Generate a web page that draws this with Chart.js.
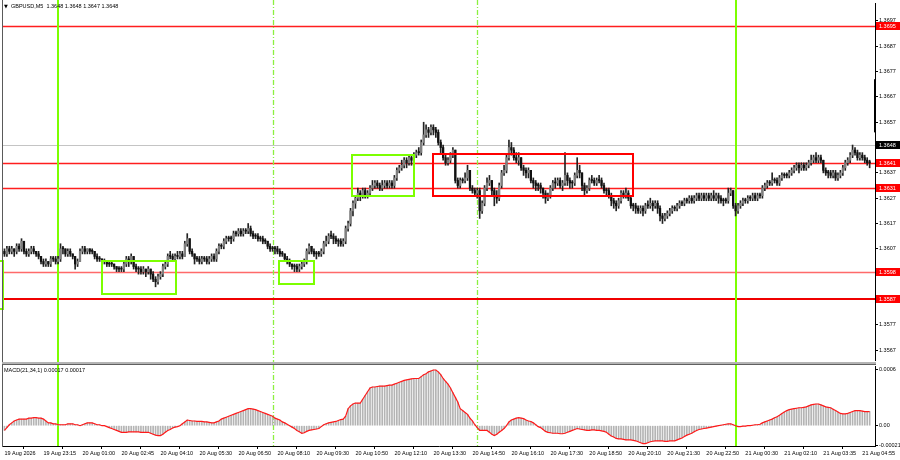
<!DOCTYPE html>
<html><head><meta charset="utf-8">
<script src="https://cdn.jsdelivr.net/npm/chart.js@4.4.1/dist/chart.umd.min.js"></script>
<style>
html,body{margin:0;padding:0;background:#fff;width:900px;height:460px;overflow:hidden}
#wrap{position:relative;width:900px;height:460px}
#main{position:absolute;left:0;top:0}
#sep{position:absolute;left:2px;top:362px;width:874px;height:2px;background:#b4b4b4;border-bottom:1px solid #606060}
#macd{position:absolute;left:0;top:365px}
</style></head><body>
<div id="wrap"><canvas id="main" width="900" height="362"></canvas><div id="sep"></div><canvas id="macd" width="900" height="95"></canvas></div>
<script>
// ---------- data (GBPUSD M5) ----------
const chartTitle = 'GBPUSD,M5  1.3648 1.3648 1.3647 1.3648';
const macdTitle = 'MACD(21,34,1) 0.00017 0.00017';
const firstOpen = 1.3606;
const closes = [
1.3605,1.3607,1.3606,1.3607,1.3606,1.3608,1.3607,1.3610,1.3606,1.3605,1.3606,1.3607,1.3606,1.3605,1.3604,1.3602,
1.3601,1.3602,1.3601,1.3603,1.3603,1.3602,1.3603,1.3607,1.3607,1.3605,1.3606,1.3605,1.3604,1.3601,1.3602,1.3606,
1.3607,1.3606,1.3607,1.3606,1.3606,1.3604,1.3603,1.3603,1.3602,1.3602,1.3601,1.3601,1.3601,1.3600,1.3599,1.3599,
1.3599,1.3601,1.3603,1.3602,1.3604,1.3600,1.3599,1.3599,1.3598,1.3599,1.3598,1.3599,1.3597,1.3595,1.3594,1.3596,
1.3597,1.3600,1.3601,1.3604,1.3604,1.3603,1.3604,1.3604,1.3605,1.3604,1.3609,1.3611,1.3606,1.3605,1.3603,1.3603,
1.3602,1.3603,1.3603,1.3602,1.3603,1.3604,1.3603,1.3606,1.3608,1.3608,1.3610,1.3611,1.3611,1.3611,1.3613,1.3613,
1.3614,1.3613,1.3614,1.3614,1.3615,1.3613,1.3612,1.3612,1.3611,1.3611,1.3610,1.3610,1.3608,1.3607,1.3607,1.3607,
1.3606,1.3605,1.3605,1.3603,1.3602,1.3601,1.3600,1.3600,1.3599,1.3600,1.3601,1.3602,1.3606,1.3608,1.3606,1.3605,
1.3605,1.3605,1.3606,1.3609,1.3610,1.3612,1.3612,1.3611,1.3610,1.3610,1.3609,1.3610,1.3615,1.3617,1.3622,1.3625,
1.3627,1.3629,1.3628,1.3630,1.3628,1.3629,1.3631,1.3632,1.3633,1.3632,1.3631,1.3632,1.3633,1.3632,1.3633,1.3632,
1.3635,1.3638,1.3639,1.3640,1.3642,1.3641,1.3643,1.3642,1.3644,1.3645,1.3645,1.3649,1.3652,1.3654,1.3653,1.3655,
1.3654,1.3653,1.3649,1.3647,1.3643,1.3641,1.3642,1.3644,1.3646,1.3634,1.3632,1.3634,1.3634,1.3635,1.3638,1.3631,
1.3630,1.3629,1.3630,1.3622,1.3625,1.3631,1.3633,1.3634,1.3630,1.3628,1.3627,1.3632,1.3637,1.3638,1.3643,1.3647,
1.3646,1.3643,1.3642,1.3643,1.3639,1.3638,1.3637,1.3638,1.3634,1.3633,1.3632,1.3632,1.3631,1.3629,1.3627,1.3628,
1.3631,1.3633,1.3633,1.3634,1.3632,1.3633,1.3636,1.3634,1.3633,1.3633,1.3636,1.3638,1.3637,1.3632,1.3630,1.3631,
1.3634,1.3634,1.3633,1.3634,1.3634,1.3632,1.3630,1.3630,1.3628,1.3626,1.3625,1.3624,1.3626,1.3629,1.3628,1.3629,
1.3627,1.3624,1.3624,1.3623,1.3622,1.3623,1.3622,1.3624,1.3624,1.3625,1.3624,1.3625,1.3623,1.3620,1.3619,1.3620,
1.3621,1.3622,1.3623,1.3623,1.3624,1.3625,1.3625,1.3626,1.3626,1.3627,1.3626,1.3627,1.3628,1.3627,1.3628,1.3627,
1.3628,1.3627,1.3628,1.3627,1.3628,1.3627,1.3626,1.3626,1.3626,1.3629,1.3630,1.3624,1.3622,1.3624,1.3625,1.3626,
1.3626,1.3627,1.3627,1.3628,1.3627,1.3628,1.3628,1.3631,1.3632,1.3633,1.3633,1.3634,1.3634,1.3633,1.3635,1.3636,
1.3636,1.3636,1.3637,1.3638,1.3639,1.3640,1.3639,1.3640,1.3639,1.3640,1.3641,1.3642,1.3643,1.3642,1.3643,1.3642,
1.3638,1.3637,1.3637,1.3636,1.3637,1.3635,1.3636,1.3637,1.3639,1.3641,1.3642,1.3644,1.3646,1.3645,1.3643,1.3644,
1.3643,1.3642,1.3641,1.3641];
const highs = [
1.3607,1.3608,1.3608,1.3608,1.3607,1.3609,1.3609,1.3611,1.3610,1.3607,1.3607,1.3608,1.3608,1.3606,1.3606,1.3604,
1.3603,1.3603,1.3602,1.3604,1.3604,1.3604,1.3604,1.3609,1.3608,1.3607,1.3607,1.3607,1.3605,1.3604,1.3603,1.3607,
1.3608,1.3608,1.3607,1.3607,1.3607,1.3606,1.3605,1.3604,1.3603,1.3603,1.3602,1.3602,1.3602,1.3601,1.3600,1.3600,
1.3600,1.3602,1.3604,1.3604,1.3605,1.3604,1.3601,1.3600,1.3600,1.3600,1.3599,1.3600,1.3599,1.3598,1.3596,1.3597,
1.3598,1.3601,1.3602,1.3605,1.3606,1.3605,1.3605,1.3606,1.3606,1.3606,1.3610,1.3613,1.3611,1.3607,1.3605,1.3604,
1.3604,1.3604,1.3604,1.3604,1.3604,1.3605,1.3605,1.3607,1.3609,1.3609,1.3611,1.3612,1.3612,1.3612,1.3614,1.3614,
1.3615,1.3615,1.3615,1.3615,1.3617,1.3616,1.3614,1.3613,1.3613,1.3612,1.3612,1.3611,1.3610,1.3609,1.3608,1.3608,
1.3608,1.3607,1.3606,1.3605,1.3604,1.3603,1.3601,1.3601,1.3601,1.3601,1.3602,1.3603,1.3607,1.3609,1.3608,1.3607,
1.3606,1.3606,1.3607,1.3610,1.3612,1.3613,1.3614,1.3613,1.3612,1.3611,1.3611,1.3611,1.3616,1.3618,1.3623,1.3626,
1.3628,1.3631,1.3630,1.3631,1.3631,1.3630,1.3632,1.3634,1.3634,1.3634,1.3633,1.3634,1.3634,1.3634,1.3634,1.3634,
1.3636,1.3639,1.3640,1.3642,1.3643,1.3643,1.3644,1.3644,1.3645,1.3646,1.3647,1.3650,1.3657,1.3656,1.3655,1.3656,
1.3656,1.3655,1.3654,1.3650,1.3648,1.3644,1.3643,1.3645,1.3647,1.3646,1.3635,1.3635,1.3635,1.3637,1.3640,1.3638,
1.3632,1.3631,1.3631,1.3631,1.3626,1.3632,1.3635,1.3636,1.3634,1.3631,1.3630,1.3633,1.3638,1.3640,1.3644,1.3650,
1.3649,1.3647,1.3645,1.3645,1.3643,1.3640,1.3639,1.3639,1.3638,1.3635,1.3634,1.3633,1.3633,1.3631,1.3630,1.3629,
1.3632,1.3634,1.3635,1.3635,1.3635,1.3634,1.3645,1.3637,1.3635,1.3634,1.3637,1.3643,1.3640,1.3637,1.3633,1.3632,
1.3635,1.3636,1.3635,1.3635,1.3636,1.3635,1.3633,1.3631,1.3631,1.3629,1.3627,1.3626,1.3627,1.3630,1.3630,1.3631,
1.3630,1.3628,1.3625,1.3625,1.3624,1.3624,1.3624,1.3625,1.3626,1.3627,1.3626,1.3626,1.3626,1.3624,1.3621,1.3621,
1.3622,1.3623,1.3624,1.3624,1.3625,1.3626,1.3626,1.3627,1.3627,1.3628,1.3628,1.3628,1.3629,1.3629,1.3629,1.3629,
1.3629,1.3629,1.3629,1.3630,1.3629,1.3629,1.3628,1.3627,1.3627,1.3631,1.3631,1.3630,1.3625,1.3625,1.3626,1.3627,
1.3627,1.3628,1.3628,1.3629,1.3629,1.3629,1.3629,1.3632,1.3633,1.3634,1.3634,1.3637,1.3635,1.3635,1.3636,1.3637,
1.3637,1.3637,1.3638,1.3639,1.3640,1.3641,1.3641,1.3641,1.3641,1.3641,1.3642,1.3644,1.3644,1.3645,1.3644,1.3644,
1.3642,1.3639,1.3638,1.3638,1.3638,1.3638,1.3637,1.3638,1.3640,1.3642,1.3643,1.3645,1.3648,1.3647,1.3646,1.3645,
1.3645,1.3644,1.3643,1.3642];
const lows = [
1.3604,1.3604,1.3605,1.3605,1.3604,1.3605,1.3606,1.3606,1.3605,1.3604,1.3604,1.3605,1.3605,1.3604,1.3603,1.3601,
1.3600,1.3600,1.3600,1.3600,1.3602,1.3601,1.3601,1.3602,1.3605,1.3604,1.3604,1.3604,1.3603,1.3599,1.3600,1.3602,
1.3605,1.3605,1.3605,1.3605,1.3605,1.3603,1.3602,1.3602,1.3601,1.3601,1.3600,1.3600,1.3600,1.3599,1.3598,1.3598,
1.3598,1.3598,1.3600,1.3600,1.3601,1.3599,1.3598,1.3597,1.3597,1.3597,1.3596,1.3597,1.3595,1.3594,1.3592,1.3593,
1.3595,1.3596,1.3599,1.3600,1.3603,1.3602,1.3602,1.3603,1.3603,1.3603,1.3604,1.3608,1.3605,1.3604,1.3601,1.3602,
1.3601,1.3601,1.3602,1.3601,1.3601,1.3602,1.3602,1.3602,1.3605,1.3607,1.3607,1.3609,1.3610,1.3609,1.3610,1.3612,
1.3612,1.3612,1.3612,1.3613,1.3613,1.3612,1.3611,1.3611,1.3610,1.3610,1.3609,1.3609,1.3607,1.3606,1.3606,1.3605,
1.3605,1.3604,1.3604,1.3602,1.3601,1.3600,1.3599,1.3598,1.3598,1.3598,1.3599,1.3600,1.3601,1.3605,1.3605,1.3604,
1.3603,1.3604,1.3604,1.3605,1.3608,1.3609,1.3611,1.3609,1.3609,1.3608,1.3608,1.3608,1.3609,1.3614,1.3616,1.3620,
1.3623,1.3626,1.3626,1.3627,1.3627,1.3627,1.3628,1.3630,1.3631,1.3631,1.3630,1.3630,1.3631,1.3631,1.3631,1.3631,
1.3631,1.3634,1.3637,1.3638,1.3639,1.3639,1.3640,1.3640,1.3641,1.3643,1.3644,1.3644,1.3648,1.3651,1.3651,1.3652,
1.3652,1.3651,1.3648,1.3645,1.3642,1.3640,1.3640,1.3641,1.3643,1.3633,1.3631,1.3631,1.3633,1.3633,1.3634,1.3630,
1.3629,1.3628,1.3627,1.3619,1.3621,1.3624,1.3630,1.3632,1.3628,1.3624,1.3625,1.3626,1.3631,1.3636,1.3637,1.3642,
1.3644,1.3642,1.3641,1.3640,1.3638,1.3636,1.3635,1.3635,1.3633,1.3631,1.3630,1.3630,1.3629,1.3627,1.3625,1.3626,
1.3627,1.3630,1.3631,1.3632,1.3631,1.3630,1.3632,1.3632,1.3631,1.3631,1.3632,1.3635,1.3635,1.3630,1.3628,1.3629,
1.3630,1.3633,1.3632,1.3632,1.3633,1.3631,1.3629,1.3628,1.3627,1.3624,1.3623,1.3622,1.3623,1.3625,1.3627,1.3627,
1.3626,1.3623,1.3622,1.3621,1.3621,1.3621,1.3620,1.3621,1.3623,1.3623,1.3622,1.3623,1.3621,1.3618,1.3617,1.3618,
1.3619,1.3620,1.3621,1.3622,1.3622,1.3623,1.3624,1.3624,1.3625,1.3625,1.3625,1.3625,1.3626,1.3626,1.3626,1.3626,
1.3626,1.3626,1.3626,1.3626,1.3626,1.3625,1.3625,1.3624,1.3625,1.3625,1.3628,1.3623,1.3620,1.3621,1.3623,1.3624,
1.3625,1.3625,1.3626,1.3626,1.3626,1.3626,1.3627,1.3627,1.3630,1.3631,1.3632,1.3632,1.3633,1.3632,1.3632,1.3634,
1.3635,1.3635,1.3635,1.3636,1.3637,1.3638,1.3637,1.3638,1.3638,1.3638,1.3639,1.3640,1.3641,1.3641,1.3641,1.3641,
1.3637,1.3636,1.3635,1.3635,1.3635,1.3634,1.3634,1.3635,1.3636,1.3638,1.3640,1.3641,1.3643,1.3644,1.3642,1.3642,
1.3642,1.3641,1.3640,1.3639];
// MACD(21,34,1) main = signal, read per bar from the lower panel
const macd = [
-5e-5,-2e-5,1e-5,3e-5,5e-5,6e-5,7e-5,7e-5,7e-5,7e-5,8e-5,8e-5,8.5e-5,8.5e-5,8e-5,8e-5,
7e-5,5e-5,3e-5,3e-5,2e-5,2e-5,1e-5,1e-5,1e-5,1e-5,2e-5,2e-5,2e-5,1e-5,1e-5,0,
1e-5,2e-5,3e-5,3e-5,3e-5,2e-5,1e-5,1e-5,0,0,-1e-5,-2e-5,-3e-5,-4e-5,-5e-5,-6e-5,
-7e-5,-7e-5,-7e-5,-6.5e-5,-6.5e-5,-6.5e-5,-6.5e-5,-6.5e-5,-7e-5,-7e-5,-7e-5,-7e-5,-8e-5,-9e-5,-10e-5,-10.5e-5,
-10.5e-5,-9e-5,-7e-5,-5e-5,-4e-5,-2.5e-5,-1.5e-5,-1e-5,0,2e-5,4e-5,6e-5,5.5e-5,5e-5,5e-5,4.5e-5,
4.5e-5,4.5e-5,4e-5,4e-5,3.5e-5,3e-5,3e-5,4e-5,5e-5,7e-5,8e-5,9e-5,10e-5,11e-5,12e-5,13e-5,
14e-5,15e-5,16e-5,17e-5,18e-5,18e-5,17.5e-5,17e-5,16e-5,15e-5,14e-5,13e-5,12e-5,11e-5,10e-5,8e-5,
7e-5,6e-5,4e-5,3e-5,1.5e-5,0,-1.5e-5,-3e-5,-5e-5,-6.5e-5,-8e-5,-7.5e-5,-6e-5,-5e-5,-4.5e-5,-4e-5,
-3.5e-5,-3e-5,-1e-5,1e-5,2e-5,3e-5,3.5e-5,4e-5,4.5e-5,5.5e-5,6.5e-5,7e-5,10e-5,18e-5,21e-5,23e-5,
24e-5,24e-5,24e-5,28e-5,32e-5,36e-5,40e-5,41e-5,41e-5,41.5e-5,42e-5,42e-5,42e-5,42.5e-5,43e-5,43e-5,
44e-5,45e-5,46e-5,47e-5,48e-5,48.5e-5,49e-5,49.5e-5,50e-5,50e-5,50e-5,52e-5,54e-5,55e-5,57e-5,58e-5,
59e-5,59e-5,57e-5,54e-5,50e-5,47e-5,44e-5,40e-5,35e-5,30e-5,25e-5,18e-5,16e-5,14e-5,12e-5,8e-5,
5e-5,1e-5,-2e-5,-5e-5,-5e-5,-5e-5,-5e-5,-7e-5,-9e-5,-10.5e-5,-9e-5,-7e-5,-5e-5,-3e-5,0,4e-5,
6e-5,7e-5,8e-5,8.5e-5,8e-5,7.5e-5,6e-5,5e-5,4.5e-5,3e-5,1e-5,-1e-5,-2e-5,-4e-5,-6e-5,-7e-5,
-7.5e-5,-8e-5,-8e-5,-8e-5,-8.5e-5,-8.5e-5,-8e-5,-7e-5,-6e-5,-5e-5,-4e-5,-3e-5,-3.5e-5,-4e-5,-4.5e-5,-5e-5,
-5e-5,-4.5e-5,-4.5e-5,-5e-5,-5e-5,-5.5e-5,-6e-5,-7e-5,-9e-5,-11e-5,-12e-5,-13.5e-5,-14e-5,-14e-5,-14.5e-5,-15e-5,
-15e-5,-15e-5,-15.5e-5,-16e-5,-17e-5,-18e-5,-19e-5,-19e-5,-18e-5,-17e-5,-16.5e-5,-16e-5,-16e-5,-16e-5,-16e-5,-16.5e-5,
-16.5e-5,-16e-5,-16e-5,-16e-5,-15e-5,-14e-5,-13e-5,-11.5e-5,-10e-5,-9e-5,-8e-5,-6.5e-5,-5e-5,-4e-5,-3.5e-5,-3e-5,
-2.5e-5,-2e-5,-1.5e-5,-1e-5,-0.5e-5,0,0.5e-5,1e-5,1.5e-5,2e-5,2e-5,1e-5,0,-1e-5,-1e-5,-0.5e-5,
-0.5e-5,0,0,0.5e-5,1e-5,1e-5,1.5e-5,3e-5,4e-5,5e-5,6e-5,7e-5,8.5e-5,9.5e-5,11e-5,13e-5,
14.5e-5,16e-5,17e-5,17.5e-5,18e-5,18.5e-5,19e-5,19e-5,19.5e-5,20e-5,21e-5,22e-5,22.5e-5,23e-5,23e-5,22e-5,
21e-5,20e-5,19.5e-5,19e-5,17.5e-5,16e-5,14.5e-5,13e-5,12.5e-5,12.5e-5,13e-5,14e-5,15e-5,16e-5,16e-5,16e-5,
15.5e-5,15e-5,15e-5,15e-5];
const timeTickIndex = [0,16,32,48,64,80,96,112,128,144,160,176,192,208,224,240,256,272,288,304,320,336,352];
const timeLabels = ['19 Aug 2026','19 Aug 23:15','20 Aug 01:00','20 Aug 02:45','20 Aug 04:10','20 Aug 05:30',
'20 Aug 06:50','20 Aug 08:10','20 Aug 09:30','20 Aug 10:50','20 Aug 12:10','20 Aug 13:30','20 Aug 14:50',
'20 Aug 16:10','20 Aug 17:30','20 Aug 18:50','20 Aug 20:10','20 Aug 21:30','20 Aug 22:50','21 Aug 00:30',
'21 Aug 02:10','21 Aug 03:35','21 Aug 04:55'];
const priceTicks = [1.3567,1.3577,1.3607,1.3617,1.3627,1.3637,1.3657,1.3667,1.3677,1.3687,1.3697];
const macdTicks = [-0.00021, 0, 0.0006];
const macdTickLabels = ['-0.00021','0.00','0.0006'];
// horizontal levels and the current price line
const levels = [1.3695, 1.3641, 1.3631, 1.3598, 1.3587];
const bidPrice = 1.3648;
// drawn objects (bar index / price coordinates)
const vLineIdx = [22, 110, 194, 300];
const boxIdx0 = [-20, 40.0, 112.7, 142.6, 175.8];
const boxIdx1 = [-0.7, 70.4, 127.0, 168.1, 257.9];
const boxTop = [1.3602, 1.3602, 1.3602, 1.3644, 1.36445];
const boxBottom = [1.3583, 1.3589, 1.3593, 1.3628, 1.3628];
const axisMarker = [1.3653, 1.3674];

// ---------- styles ----------
const FAM = '"Liberation Sans", Arial, sans-serif';
const FS = 5.5;
const font = {family: FAM, size: FS};
const yFont = {family: FAM, size: FS, lineHeight: 0.01};
const fontStr = FS + 'px ' + FAM;
const GREEN = '#7cff00';
const boxColor = [GREEN, GREEN, GREEN, GREEN, '#ff0000'];
const levelColor = ['#ff1e1e', '#ff1e1e', '#ff1e1e', '#ff6a6a', '#f00000'];
const levelWidth = [1.4, 1.4, 1.4, 1.3, 2];
const vLineWidth = [2, 1.3, 1.3, 2];
const vLineDash = [[], [5, 2, 1, 2], [5, 2, 1, 2], []];
const vLineColor = [GREEN, '#8cf040', '#8cf040', GREEN];
const xMin = -0.6, xMax = 357.2;

const opens = [firstOpen].concat(closes.slice(0, -1)); // each M5 bar opens at the prior close

function drawVLines(ctx, xs, top, bottom) {
  vLineIdx.forEach((v, k) => {
    let px = xs.getPixelForValue(v);
    px = Math.round(px) + (vLineWidth[k] === 2 ? 0 : 0.5);
    ctx.save();
    ctx.strokeStyle = vLineColor[k];
    ctx.lineWidth = vLineWidth[k];
    ctx.setLineDash(vLineDash[k]);
    ctx.beginPath(); ctx.moveTo(px, top); ctx.lineTo(px, bottom); ctx.stroke();
    ctx.restore();
  });
}

const decorMain = {
  id: 'decorMain',
  beforeDatasetsDraw(chart) {
    const {ctx, chartArea: a, scales: {x, y}} = chart;
    ctx.save();
    levels.forEach((p, k) => {
      let py = Math.round(y.getPixelForValue(p)) + (levelWidth[k] === 2 ? 0 : 0.5);
      ctx.strokeStyle = levelColor[k]; ctx.lineWidth = levelWidth[k];
      ctx.beginPath(); ctx.moveTo(a.left, py); ctx.lineTo(a.right, py); ctx.stroke();
    });
    const by = Math.round(y.getPixelForValue(bidPrice)) + 0.5;
    ctx.strokeStyle = '#c4c4c4'; ctx.lineWidth = 1;
    ctx.beginPath(); ctx.moveTo(a.left, by); ctx.lineTo(a.right, by); ctx.stroke();
    drawVLines(ctx, x, 0, a.bottom + 1);
    ctx.restore();
  },
  afterDatasetsDraw(chart) {
    const {ctx, chartArea: a, scales: {x, y}} = chart;
    ctx.save();
    ctx.beginPath(); ctx.rect(0, a.top, a.right, a.bottom - a.top); ctx.clip();
    boxIdx0.forEach((i0, k) => {
      const x0 = x.getPixelForValue(i0), x1 = x.getPixelForValue(boxIdx1[k]);
      const y0 = y.getPixelForValue(boxTop[k]), y1 = y.getPixelForValue(boxBottom[k]);
      ctx.strokeStyle = boxColor[k]; ctx.lineWidth = 2;
      ctx.strokeRect(Math.round(x0), Math.round(y0), Math.round(x1 - x0), Math.round(y1 - y0));
    });
    ctx.restore();
  },
  afterDraw(chart) {
    const {ctx, chartArea: a, scales: {y}} = chart;
    ctx.save();
    // left frame
    ctx.fillStyle = '#5a5a5a'; ctx.fillRect(2, 0, 1, a.bottom + 1);
    // axis marker
    const m0 = y.getPixelForValue(axisMarker[1]), m1 = y.getPixelForValue(axisMarker[0]);
    ctx.fillStyle = '#000'; ctx.fillRect(a.right - 1, m0, 2, m1 - m0);
    // level labels
    ctx.font = fontStr; ctx.textBaseline = 'middle'; ctx.textAlign = 'left';
    const tags = levels.map((p) => [p, '#ff0000']).concat([[bidPrice, '#000']]);
    tags.forEach(([p, bg]) => {
      const py = y.getPixelForValue(p);
      ctx.fillStyle = bg; ctx.fillRect(a.right + 1, Math.round(py) - 4, 24, 8);
      ctx.fillStyle = '#fff'; ctx.fillText(p.toFixed(4), a.right + 4, py + 0.5);
    });
    // title
    ctx.fillStyle = '#000';
    ctx.font = '5px "DejaVu Sans", sans-serif';
    ctx.fillText('\u25BC', 4, 6.5);
    ctx.font = fontStr;
    ctx.fillText(chartTitle, 11, 6.5);
    ctx.restore();
  }
};

const decorMacd = {
  id: 'decorMacd',
  beforeDatasetsDraw(chart) {
    const {ctx, chartArea: a, scales: {x}} = chart;
    drawVLines(ctx, x, 0, a.bottom);
  },
  afterDraw(chart) {
    const {ctx, chartArea: a} = chart;
    ctx.save();
    ctx.fillStyle = '#5a5a5a'; ctx.fillRect(2, 0, 1, a.bottom + 1);
    ctx.font = fontStr; ctx.fillStyle = '#000'; ctx.textBaseline = 'middle';
    ctx.fillText(macdTitle, 4, a.top + 4.5);
    ctx.restore();
  }
};

const tickGrid = {display: true, drawOnChartArea: false, drawTicks: true, tickLength: 3, color: '#000'};

new Chart(document.getElementById('main'), {
  type: 'bar',
  data: {datasets: [
    {data: closes.map((c, i) => ({x: i, y: [opens[i], c]})),
     backgroundColor: (c) => closes[c.dataIndex] > opens[c.dataIndex] ? '#808080' : '#111',
     barThickness: 1.6, minBarLength: 1, grouped: false, order: 1},
    {data: closes.map((c, i) => ({x: i, y: [lows[i], highs[i]]})),
     backgroundColor: '#222', barThickness: 1, grouped: false, order: 2}
  ]},
  options: {
    responsive: false, animation: false, events: [],
    layout: {padding: {left: 3, top: 3, right: 0, bottom: 1}},
    plugins: {legend: {display: false}, tooltip: {enabled: false}},
    scales: {
      x: {type: 'linear', min: xMin, max: xMax, offset: false, display: false},
      y: {position: 'right', min: 1.35627, max: 1.37041,
          afterFit: (s) => { s.width = 25; },
          afterBuildTicks: (s) => { s.ticks = priceTicks.map(v => ({value: v})); },
          ticks: {callback: (v) => Number(v).toFixed(4), font: yFont, color: '#000', padding: 1, autoSkip: false},
          grid: tickGrid, border: {display: true, color: '#000'}}
    }
  },
  plugins: [decorMain]
});

new Chart(document.getElementById('macd'), {
  type: 'bar',
  data: {datasets: [
    {type: 'line', data: macd.map((v, i) => ({x: i, y: v})), borderColor: '#ff1a1a', borderWidth: 1.2,
     pointRadius: 0, tension: 0, order: 1},
    {type: 'bar', data: macd.map((v, i) => ({x: i, y: v})), backgroundColor: '#b4b4b4',
     barThickness: 1, grouped: false, order: 2}
  ]},
  options: {
    responsive: false, animation: false, events: [],
    layout: {padding: {left: 3, top: 1, right: 0, bottom: 0}},
    plugins: {legend: {display: false}, tooltip: {enabled: false}},
    scales: {
      x: {type: 'linear', min: xMin, max: xMax, offset: false,
          afterFit: (s) => { s.height = 14; },
          afterBuildTicks: (s) => { s.ticks = timeTickIndex.map(v => ({value: v})); },
          ticks: {callback: (v) => timeLabels[timeTickIndex.indexOf(v)], align: 'start', maxRotation: 0,
                  autoSkip: false, font, color: '#000', padding: 1},
          grid: tickGrid, border: {display: true, color: '#000'}},
      y: {position: 'right', min: -0.000215, max: 0.000632,
          afterFit: (s) => { s.width = 25; },
          afterBuildTicks: (s) => { s.ticks = macdTicks.map(v => ({value: v})); },
          ticks: {callback: (v) => macdTickLabels[macdTicks.indexOf(v)], font: yFont, color: '#000', padding: 1, autoSkip: false},
          grid: tickGrid, border: {display: true, color: '#000'}}
    }
  },
  plugins: [decorMacd]
});
</script>
</body></html>
